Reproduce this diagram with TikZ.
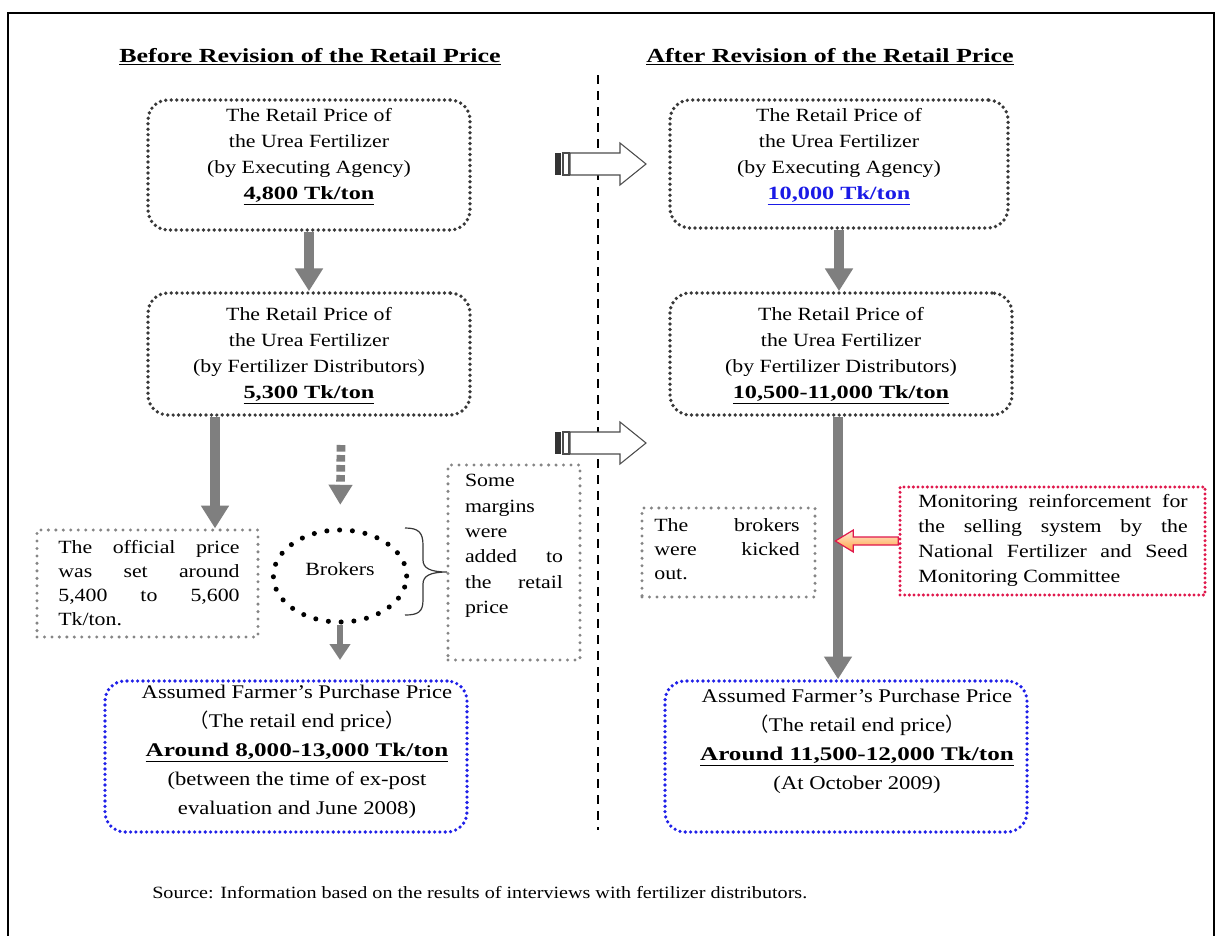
\documentclass[tikz,border=0pt]{standalone}
\usepackage{fontspec}
\setmainfont{Liberation Serif}[FakeStretch=1.17]
\newfontfamily\bfam{Liberation Serif}[FakeStretch=1.3]
\newfontfamily\cjk{Noto Sans CJK JP}
\usetikzlibrary{arrows.meta,fit,calc,shapes.geometric}
\definecolor{dk}{HTML}{383838}
\definecolor{gr}{HTML}{858585}
\definecolor{bl}{HTML}{2020E8}
\definecolor{rd}{HTML}{E0184C}
\definecolor{ar}{HTML}{7F7F7F}
\definecolor{numblue}{HTML}{1A1AE6}
\newcommand\bnum[1]{\underline{\bfam\bfseries #1}}
\begin{document}
\begin{tikzpicture}[x=0.75pt,y=-0.75pt,
  darkbox/.style={draw=dk, line width=2.8pt, dash pattern=on 0pt off 4.1pt, line cap=round, rounded corners=15pt, inner sep=0pt},
  bluebox/.style={draw=bl, line width=2.7pt, dash pattern=on 0pt off 4pt, line cap=round, rounded corners=15pt, inner sep=0pt},
  graybox/.style={draw=gr, line width=2.5pt, dash pattern=on 0pt off 5.6pt, line cap=round, inner sep=0pt},
  redbox/.style={draw=rd, line width=2.5pt, dash pattern=on 0pt off 3.5pt, line cap=round, inner sep=0pt},
  txt/.style={font=\fontsize{14}{19.5}\selectfont, align=center, inner sep=0pt},
  jtxt/.style={inner sep=0pt, align=left},
  grayarrow/.style={draw=ar, line width=7pt, -{Triangle[width=20pt,length=17pt]}},
  harrow/.pic={
    \fill[black!80] (0,-11) rectangle (6,11);
    \draw[line width=0.8pt, draw=black!70] (8,-11) rectangle (14,11);
    \draw[line width=0.8pt, draw=black!70, fill=white] (15,-11) -- ++(50,0) -- ++(0,-10) -- ++(26,21) -- ++(-26,21) -- ++(0,-10) -- ++(-50,0) -- cycle;
  }]
\useasboundingbox (0,0) rectangle (1223,935);
\fill[white] (0,0) rectangle (1223,935);
\draw[line width=1.4pt] (8,13) rectangle (1214,960);

% titles
\node[inner sep=0pt] (tl) at (310,57) {\fontsize{15}{18}\selectfont\bnum{Before Revision of the Retail Price}};
\node[inner sep=0pt] (tr) at (830,57) {\fontsize{15}{18}\selectfont\bnum{After Revision of the Retail Price}};

% divider
\draw[line width=1pt, dash pattern=on 7pt off 5pt] (598,75) -- (598,830);

% left column
\node[darkbox, fit={(148,100)(470,230)}] (L1) {};
\node[txt] (L1t) at (309,157) {The Retail Price of\\the Urea Fertilizer\\(by Executing Agency)\\\bnum{4,800 Tk/ton}};
\node[darkbox, fit={(148,293)(470,415)}] (L2) {};
\node[txt] (L2t) at (309,356) {The Retail Price of\\the Urea Fertilizer\\(by Fertilizer Distributors)\\\bnum{5,300 Tk/ton}};

\node[graybox, fit={(37,530)(258,637)}] (off) {};
\node[jtxt, font=\fontsize{14}{18}\selectfont] (offt) at (149,583)
 {\makebox[136pt][s]{The official price}\\\makebox[136pt][s]{was set around}\\\makebox[136pt][s]{5,400 to 5,600}\\Tk/ton.};

\node[graybox, fit={(448,465)(580,660)}] (mar) {};
\node[jtxt, font=\fontsize{14}{19}\selectfont] (mart) at (514,546)
 {Some\\margins\\were\\\makebox[73.5pt][s]{added to}\\\makebox[73.5pt][s]{the retail}\\price};

\node[ellipse, draw=black, line width=3.8pt, dash pattern=on 0pt off 9.6pt, line cap=round,
  minimum width=100pt, minimum height=69pt, inner sep=0pt] (brk) at (340,576) {};
\node[txt] (brkt) at (340,569) {Brokers};
\draw[line width=0.9pt, draw=dk]
  (405,528) .. controls (418,528) and (423,532) .. (423,545) -- (423,560)
  .. controls (423,568) and (430,572) .. (447,572)
  .. controls (430,572) and (423,576) .. (423,584) -- (423,600)
  .. controls (423,612) and (418,615) .. (405,615);

\node[bluebox, fit={(105,681)(467,832)}] (LB) {};
\node[txt, font=\fontsize{14.5}{21.75}\selectfont] (LBt) at (297,752)
 {Assumed Farmer’s Purchase Price\\{\cjk （}The retail end price{\cjk ）}\\\bnum{Around 8,000-13,000 Tk/ton}\\(between the time of ex-post\\evaluation and June 2008)};

% left arrows
\coordinate (ax1) at (215,0);
\coordinate (d1) at (341,445);
\coordinate (d2) at (340,660);
\draw[grayarrow] (L1.south) -- (L2.north);
\draw[grayarrow] (L2.south -| ax1) -- (off.north -| ax1);
\draw[draw=ar, line width=6.5pt, dash pattern=on 5pt off 2.5pt, -{Triangle[width=17pt,length=15pt]}, shorten >=17pt] (d1) -- (brk.north);
\draw[draw=ar, line width=5pt, -{Triangle[width=15pt,length=12pt]}] (brk.south) -- (d2);

% hollow arrows
\pic (h1) at (555,164) {harrow};
\pic (h2) at (555,443) {harrow};

% right column
\node[darkbox, fit={(670,100)(1008,228)}] (R1) {};
\node[txt] (R1t) at (839,157) {The Retail Price of\\the Urea Fertilizer\\(by Executing Agency)\\{\color{numblue}\bnum{10,000 Tk/ton}}};
\node[darkbox, fit={(670,293)(1012,415)}] (R2) {};
\node[txt] (R2t) at (841,356) {The Retail Price of\\the Urea Fertilizer\\(by Fertilizer Distributors)\\\bnum{10,500-11,000 Tk/ton}};

\node[graybox, fit={(642,508)(815,597)}] (kick) {};
\node[jtxt, font=\fontsize{14}{18}\selectfont] (kickt) at (727,549)
 {\makebox[109pt][s]{The brokers}\\\makebox[109pt][s]{were kicked}\\out.};

\node[redbox, fit={(900,487)(1205,595)}] (red) {};
\node[jtxt, font=\fontsize{14}{18.75}\selectfont] (redt) at (1053,540)
 {\makebox[202pt][s]{Monitoring reinforcement for}\\\makebox[202pt][s]{the selling system by the}\\\makebox[202pt][s]{National Fertilizer and Seed}\\Monitoring Committee};

\node[bluebox, fit={(665,681)(1027,832)}] (RB) {};
\node[txt, font=\fontsize{14.5}{21.75}\selectfont] (RBt) at (857,741)
 {Assumed Farmer’s Purchase Price\\{\cjk （}The retail end price{\cjk ）}\\\bnum{Around 11,500-12,000 Tk/ton}\\(At October 2009)};

\coordinate (ax2) at (838,0);
\draw[grayarrow] (R1.south) -- (R1.south |- R2.north);
\draw[grayarrow] (R2.south -| ax2) -- (RB.north -| ax2);

\path[draw=rd, line width=0.9pt, top color=orange!15, bottom color=orange!75]
  ([yshift=3pt]red.west) -- ++(-45,0) -- ++(0,-7) -- ++(-18,11) -- ++(18,11) -- ++(0,-7) -- ([yshift=-3pt]red.west) -- cycle;

% source
\node[anchor=west, inner sep=0pt, font=\fontsize{12.9}{15}\selectfont] (src) at (152,893)
 {Source: Information based on the results of interviews with fertilizer distributors.};
\end{tikzpicture}
\end{document}
